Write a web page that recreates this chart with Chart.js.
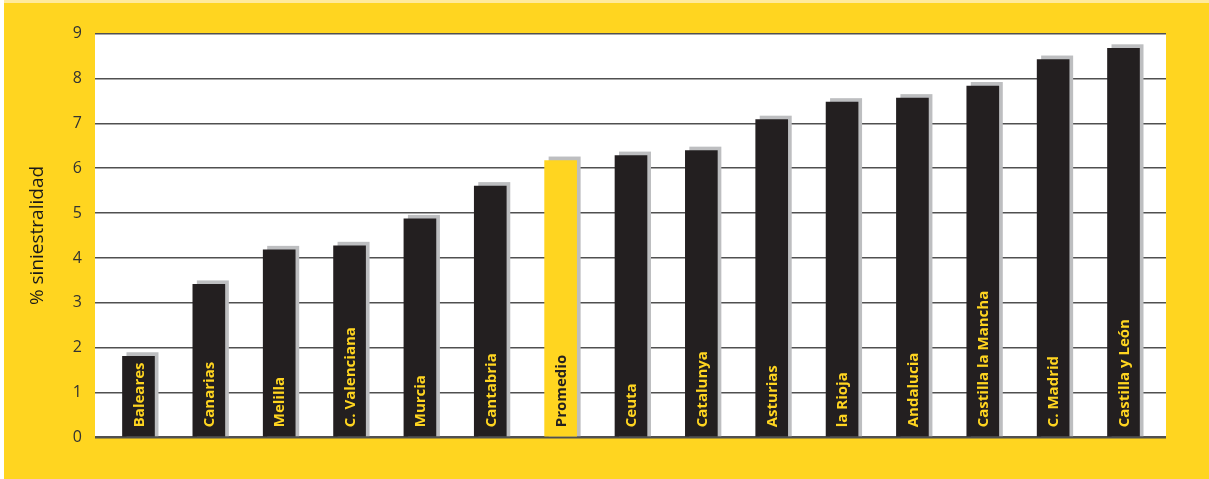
<!DOCTYPE html>
<html>
<head>
<meta charset="utf-8">
<script src="https://cdn.jsdelivr.net/npm/chart.js@4.4.1/dist/chart.umd.min.js"></script>
<style>
  html, body { margin: 0; padding: 0; background: #fff; }
  #wrap { width: 1209px; height: 479px; }
</style>
</head>
<body>
<div id="wrap"><canvas id="chart" width="1209" height="479"></canvas></div>
<script>
const regions = ['Baleares', 'Canarias', 'Melilla', 'C. Valenciana', 'Murcia', 'Cantabria', 'Promedio',
  'Ceuta', 'Catalunya', 'Asturias', 'la Rioja', 'Andalucia', 'Castilla la Mancha', 'C. Madrid', 'Castilla y León'];
const siniestralidad = [1.81, 3.41, 4.18, 4.27, 4.87, 5.6, 6.17, 6.28, 6.39, 7.08, 7.47, 7.56, 7.83, 8.42, 8.67];
const highlighted = 'Promedio';
const yMin = 0;
const yMax = 9;
const yTitle = '% siniestralidad';

const YELLOW = '#FFD520';
const BLACK = '#231F20';
const SHADOW = '#BDBEC0';

// white plot area on the yellow page
const background = {
  id: 'background',
  beforeDraw(chart) {
    const { ctx, chartArea: a, width, height } = chart;
    ctx.save();
    ctx.fillStyle = '#ffffff';
    ctx.fillRect(0, 0, width, height);
    ctx.fillStyle = '#FFEA9C';
    ctx.fillRect(4, 0, width - 4, 3);
    ctx.fillStyle = YELLOW;
    ctx.fillRect(4, 3, width - 4, height - 3);
    ctx.fillStyle = '#ffffff';
    ctx.fillRect(a.left, a.top, a.right - a.left, a.bottom - a.top);
    ctx.restore();
  }
};

// grey shadow behind each bar, shifted up and right
const shadows = {
  id: 'shadows',
  beforeDatasetsDraw(chart) {
    const ctx = chart.ctx;
    ctx.save();
    ctx.fillStyle = SHADOW;
    chart.getDatasetMeta(0).data.forEach(bar => {
      const { x, y, base, width } = bar.getProps(['x', 'y', 'base', 'width'], true);
      ctx.fillRect(x - width / 2 + 4, y - 4, width, base - y + 4);
    });
    ctx.restore();
  }
};

// vertical names inside the bars
const barNames = {
  id: 'barNames',
  afterDatasetsDraw(chart) {
    const ctx = chart.ctx;
    ctx.save();
    ctx.font = 'bold 15px "Open Sans"';
    ctx.textAlign = 'left';
    ctx.textBaseline = 'middle';
    chart.getDatasetMeta(0).data.forEach((bar, i) => {
      const { x, base } = bar.getProps(['x', 'base'], true);
      ctx.save();
      ctx.translate(x, base - 9);
      ctx.rotate(-Math.PI / 2);
      ctx.fillStyle = regions[i] === highlighted ? BLACK : YELLOW;
      ctx.fillText(regions[i], 0, 1);
      ctx.restore();
    });
    ctx.restore();
  }
};

const data = {
  datasets: [{
    data: siniestralidad.map((v, i) => ({ x: i, y: v })),
    backgroundColor: regions.map(r => r === highlighted ? YELLOW : BLACK),
    barThickness: 32,
  }]
};

const options = {
  responsive: false,
  animation: false,
  layout: { padding: { left: 0, right: 43, top: 33.5, bottom: 41.5 } },
  scales: {
    x: {
      type: 'linear',
      display: false,
      offset: false,
      min: -0.618,
      max: 14.604,
    },
    y: {
      min: yMin,
      max: yMax,
      afterFit: scale => { scale.width = 95; },
      border: { display: false },
      grid: {
        drawTicks: false,
        color: '#505050',
        lineWidth: ctx => ctx.tick && ctx.tick.value === 0 ? 2.5 : 1.5,
      },
      ticks: {
        stepSize: 1,
        padding: 13,
        color: '#333333',
        font: { family: '"Open Sans"', size: 16 },
      },
      title: {
        display: true,
        text: yTitle,
        color: '#1a1a1a',
        padding: { top: 26, bottom: 0 },
        font: { family: '"Open Sans"', size: 19 },
      }
    }
  },
  plugins: {
    legend: { display: false },
    tooltip: { enabled: false },
  }
};

new Chart(document.getElementById('chart').getContext('2d'), {
  type: 'bar',
  data: data,
  options: options,
  plugins: [background, shadows, barNames],
});
</script>
</body>
</html>
